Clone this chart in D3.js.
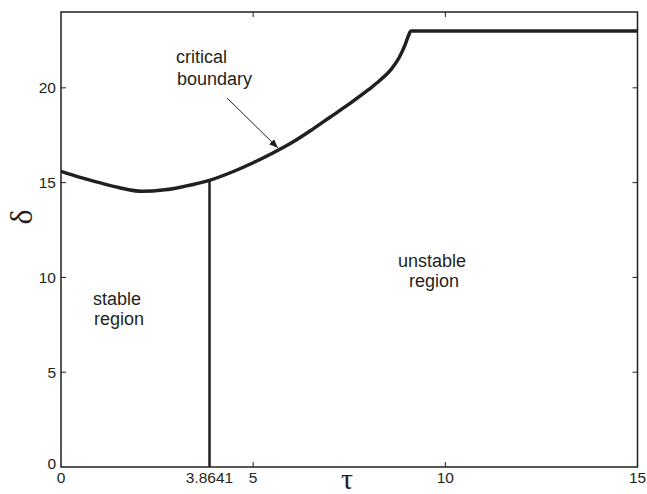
<!DOCTYPE html>
<html>
<head>
<meta charset="utf-8">
<script src="https://cdn.jsdelivr.net/npm/d3@7"></script>
<style>
  body { margin: 0; background: #fff; }
  text { font-family: 'Liberation Sans', Arial, sans-serif; fill: #231f20; }
</style>
</head>
<body>
<svg id="chart" width="647" height="494"></svg>
<script>
// boundary curve
var tau = [0, 0.5, 1, 1.5, 2.1, 2.7, 3.2, 3.8641, 4.5, 5, 5.5, 6, 6.5, 7, 7.5, 8, 8.3, 8.6, 8.8, 8.95, 9.05, 9.1, 15];
var delta = [15.6, 15.28, 15.0, 14.74, 14.54, 14.62, 14.8, 15.12, 15.6, 16.05, 16.55, 17.1, 17.75, 18.45, 19.15, 19.9, 20.4, 21.0, 21.6, 22.25, 22.8, 23, 23];
var tauCrit = 3.8641;
var xTicks = [0, 3.8641, 5, 10, 15];
var xTickLabels = ['0', '3.8641', '5', '10', '15'];
var yTicks = [0, 5, 10, 15, 20];

var svg = d3.select('#chart');
var ink = '#231f20';

var x = d3.scaleLinear().domain([0, 15]).range([61, 637.5]);
var y = d3.scaleLinear().domain([0, 24]).range([467, 12]);

var points = tau.map(function(t, i) { return [t, delta[i]]; });

// box
svg.append('rect')
    .attr('x', x(0)).attr('y', y(24))
    .attr('width', x(15) - x(0)).attr('height', y(0) - y(24))
    .style('fill', 'none').style('stroke', ink).style('stroke-width', 1.5);

// inward ticks on all four sides
var tickLen = 5;
var xIn = xTicks.filter(function(d) { return d !== 0 && d !== 15 && d !== tauCrit; });
var yIn = yTicks.filter(function(d) { return d !== 0; });
var ticks = svg.append('g').style('stroke', ink).style('stroke-width', 1);
xIn.forEach(function(d) {
  ticks.append('line').attr('x1', x(d)).attr('x2', x(d)).attr('y1', y(0)).attr('y2', y(0) - tickLen);
  ticks.append('line').attr('x1', x(d)).attr('x2', x(d)).attr('y1', y(24)).attr('y2', y(24) + tickLen);
});
yIn.forEach(function(d) {
  ticks.append('line').attr('x1', x(0)).attr('x2', x(0) + tickLen).attr('y1', y(d)).attr('y2', y(d));
  ticks.append('line').attr('x1', x(15)).attr('x2', x(15) - tickLen).attr('y1', y(d)).attr('y2', y(d));
});

// tick labels
svg.append('g').selectAll('text')
    .data(xTicks)
    .enter().append('text')
      .attr('x', function(d) { return x(d); })
      .attr('y', 483)
      .attr('text-anchor', 'middle')
      .style('font-size', '15.5px')
      .text(function(d, i) { return xTickLabels[i]; });

svg.append('g').selectAll('text')
    .data(yTicks)
    .enter().append('text')
      .attr('x', 56)
      .attr('y', function(d) { return d === 0 ? y(d) - 3 : y(d); })
      .attr('dy', '0.35em')
      .attr('text-anchor', 'end')
      .style('font-size', '15.5px')
      .text(function(d) { return d; });

// axis labels
svg.append('text')
    .attr('transform', 'translate(32,217) rotate(-90)')
    .attr('text-anchor', 'middle')
    .style('font-family', "'Liberation Serif', 'DejaVu Serif', serif")
    .style('font-size', '32px')
    .text('δ');

svg.append('text')
    .attr('x', 347).attr('y', 489)
    .attr('text-anchor', 'middle')
    .style('font-family', "'Liberation Serif', 'DejaVu Serif', serif")
    .style('font-size', '30px')
    .text('τ');

// vertical line at tau*
var critIdx = tau.indexOf(tauCrit);
svg.append('line')
    .attr('x1', x(tauCrit)).attr('x2', x(tauCrit))
    .attr('y1', y(0)).attr('y2', y(delta[critIdx]))
    .style('stroke', ink).style('stroke-width', 2.5);

// boundary
var line = d3.line()
    .x(function(d) { return x(d[0]); })
    .y(function(d) { return y(d[1]); })
    .curve(d3.curveMonotoneX);

svg.append('path')
    .datum(points)
    .attr('d', line)
    .style('fill', 'none')
    .style('stroke', ink)
    .style('stroke-width', 3.5)
    .style('stroke-linejoin', 'round');

// annotations
var notes = [
  {t: 'critical', x: 176, y: 63},
  {t: 'boundary', x: 177, y: 85},
  {t: 'stable', x: 93, y: 305},
  {t: 'region', x: 94, y: 325},
  {t: 'unstable', x: 398, y: 267},
  {t: 'region', x: 409, y: 287}
];
svg.append('g').selectAll('text')
    .data(notes)
    .enter().append('text')
      .attr('x', function(d) { return d.x; })
      .attr('y', function(d) { return d.y; })
      .style('font-size', '18px')
      .text(function(d) { return d.t; });

// arrow
svg.append('defs').append('marker')
    .attr('id', 'head')
    .attr('viewBox', '0 0 10 10')
    .attr('refX', 10).attr('refY', 5)
    .attr('markerWidth', 9).attr('markerHeight', 9)
    .attr('markerUnits', 'userSpaceOnUse')
    .attr('orient', 'auto')
  .append('path')
    .attr('d', 'M0,1L10,5L0,9Z')
    .style('fill', ink);

svg.append('line')
    .attr('x1', 227).attr('y1', 98)
    .attr('x2', 278).attr('y2', 148)
    .style('stroke', ink).style('stroke-width', 1)
    .attr('marker-end', 'url(#head)');
</script>
</body>
</html>
